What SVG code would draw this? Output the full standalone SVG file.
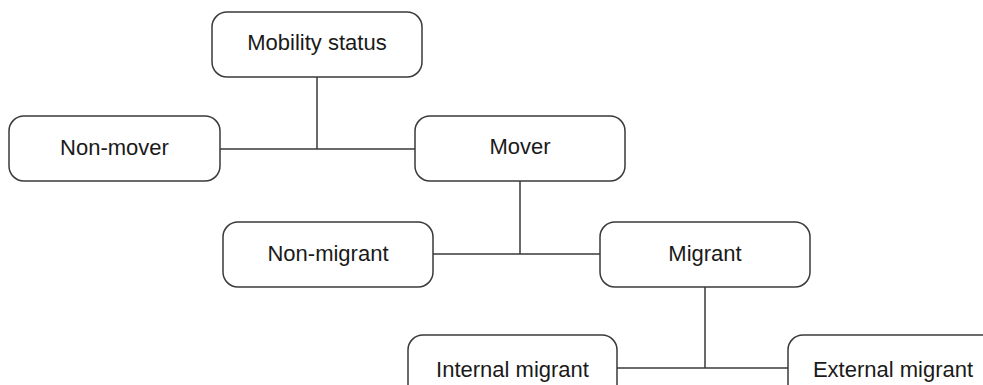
<svg xmlns="http://www.w3.org/2000/svg" width="983" height="385" viewBox="0 0 983 385">
<style>
.box{fill:#fff;stroke:#3a3a3a;stroke-width:1.5}
.lbl{font-family:"Liberation Sans",Arial,sans-serif;font-size:22px;fill:#1a1a1a;text-anchor:middle}
.conn{fill:none;stroke:#3a3a3a;stroke-width:1.5}
</style>
<rect width="983" height="385" fill="#fff"/>
<g id="connectors">
<path class="conn" d="M317 77V149M220 149H415"/>
<path class="conn" d="M520 181V254M433 254H600"/>
<path class="conn" d="M705 287V368M617 368H788"/>
</g>
<g id="mobility-status"><rect class="box" x="212" y="12" width="210" height="65" rx="15"/><text class="lbl" x="317" y="50">Mobility status</text></g>
<g id="non-mover"><rect class="box" x="9" y="116" width="211" height="65" rx="15"/><text class="lbl" x="114.5" y="155">Non-mover</text></g>
<g id="mover"><rect class="box" x="415" y="116" width="210" height="65" rx="15"/><text class="lbl" x="520" y="154">Mover</text></g>
<g id="non-migrant"><rect class="box" x="223" y="222" width="210" height="65" rx="15"/><text class="lbl" x="328" y="261">Non-migrant</text></g>
<g id="migrant"><rect class="box" x="600" y="222" width="210" height="65" rx="15"/><text class="lbl" x="705" y="261">Migrant</text></g>
<g id="internal-migrant"><rect class="box" x="408" y="335" width="209" height="65" rx="15"/><text class="lbl" x="512.5" y="377">Internal migrant</text></g>
<g id="external-migrant"><rect class="box" x="788" y="335" width="210" height="65" rx="15"/><text class="lbl" x="893" y="377">External migrant</text></g>
</svg>
